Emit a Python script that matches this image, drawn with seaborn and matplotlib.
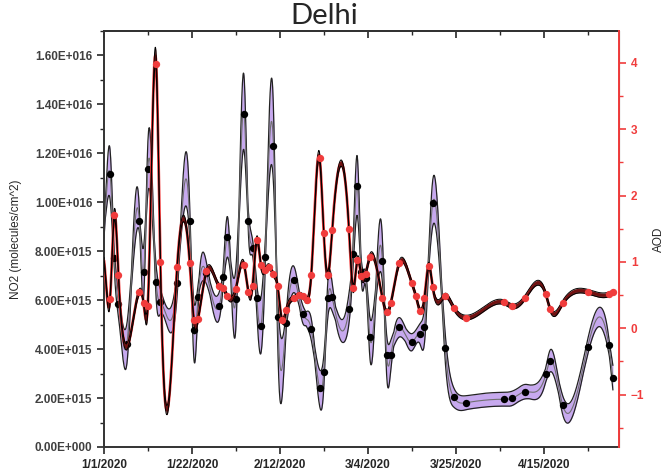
import numpy as np
import pandas as pd
import matplotlib
matplotlib.use("Agg")
import matplotlib.pyplot as plt
import seaborn as sns
from matplotlib.ticker import MultipleLocator, FuncFormatter, NullFormatter

# days since 1 Jan 2020 (first entry of each series only anchors the curve at the axis)
no2_day = [0, 1, 2, 3, 5, 8, 9, 10, 12, 13, 17, 20, 21, 22, 24, 27, 28, 29, 31, 33,
           34, 35, 36, 37, 38, 40, 41, 43, 45, 47, 49, 51, 52, 53, 54, 58, 59, 60,
           61, 62, 63, 66, 67, 68, 70, 73, 75, 76, 78, 81, 83, 86, 95, 97, 100, 105,
           106, 109, 115, 120, 121]
no2_val = [1.00e16, 1.114e16, 7.71e15, 5.84e15, 4.20e15, 9.23e15, 7.14e15, 1.135e16,
           6.73e15, 5.94e15, 6.70e15, 9.23e15, 4.78e15, 6.13e15, 7.10e15, 5.75e15,
           6.95e15, 8.59e15, 6.03e15, 1.36e16, 9.23e15, 8.15e15, 6.07e15, 4.96e15,
           7.75e15, 1.229e16, 5.30e15, 5.05e15, 6.82e15, 5.42e15, 4.82e15, 2.42e15,
           3.06e15, 6.10e15, 6.13e15, 5.64e15, 7.87e15, 1.066e16, 7.16e15, 6.89e15,
           4.48e15, 7.61e15, 3.76e15, 3.76e15, 4.89e15, 4.28e15, 4.62e15, 4.90e15,
           9.96e15, 4.03e15, 2.03e15, 1.81e15, 1.95e15, 1.99e15, 2.26e15, 2.97e15,
           3.51e15, 1.72e15, 4.10e15, 4.17e15, 2.83e15]

aod_day = [0, 1, 2, 3, 8, 9, 10, 12, 13, 17, 20, 21, 22, 24, 27, 28, 29, 31, 33, 34,
           35, 36, 37, 38, 39, 40, 41, 42, 43, 45, 46, 47, 48, 49, 51, 52, 53, 54, 58,
           59, 60, 61, 62, 63, 66, 67, 68, 70, 73, 74, 75, 76, 77, 78, 81, 83, 86, 95,
           97, 100, 105, 106, 109, 115, 120, 121]
aod_val = [0.70, 0.44, 1.71, 0.80, 0.55, 0.38, 0.34, 3.99, 1.00, 0.93, 0.99, 0.12, 0.14,
           0.86, 0.64, 0.60, 0.48, 0.59, 0.95, 0.55, 0.64, 1.33, 0.95, 0.88, 0.93, 0.81,
           0.63, 0.13, 0.27, 0.46, 0.50, 0.48, 0.42, 0.80, 2.57, 1.43, 0.80, 1.48, 1.50,
           0.60, 1.03, 0.78, 0.82, 1.08, 0.45, 0.24, 0.38, 0.98, 0.68, 0.48, 0.26, 0.45,
           0.94, 0.62, 0.49, 0.31, 0.16, 0.39, 0.33, 0.46, 0.51, 0.29, 0.38, 0.55, 0.51,
           0.54]

date_ticks = [0, 21, 42, 63, 84, 105]
date_labels = ["1/1/2020", "1/22/2020", "2/12/2020", "3/4/2020", "3/25/2020", "4/15/2020"]

overpass = 0.45  # satellite overpass, fraction of the day


def natural_spline(x, y, xs):
    x = np.asarray(x, float)
    y = np.asarray(y, float)
    n = len(x)
    h = np.diff(x)
    A = np.zeros((n, n))
    b = np.zeros(n)
    A[0, 0] = 1
    A[-1, -1] = 1
    for i in range(1, n - 1):
        A[i, i - 1] = h[i - 1]
        A[i, i] = 2 * (h[i - 1] + h[i])
        A[i, i + 1] = h[i]
        b[i] = 3 * ((y[i + 1] - y[i]) / h[i] - (y[i] - y[i - 1]) / h[i - 1])
    c = np.linalg.solve(A, b)
    bb = (y[1:] - y[:-1]) / h - h * (2 * c[:-1] + c[1:]) / 3
    d = (c[1:] - c[:-1]) / (3 * h)
    idx = np.clip(np.searchsorted(x, xs) - 1, 0, n - 2)
    t = xs - x[idx]
    return y[idx] + bb[idx] * t + c[idx] * t ** 2 + d[idx] * t ** 3


def band_width(curve, base, k, win=41):
    kern = np.ones(win) / win
    smooth = np.convolve(np.pad(curve, win // 2, mode="edge"), kern, mode="valid")
    return base + k * np.abs(curve - smooth)


sns.set_style("ticks")
plt.rcParams["font.family"] = ["Liberation Sans", "DejaVu Sans"]

no2_x = np.array(no2_day) + overpass
aod_x = np.array(aod_day) + overpass
xs1 = np.linspace(no2_x[0] - 0.45, no2_x[-1], 1600)
xs2 = np.linspace(aod_x[0] - 0.45, aod_x[-1], 1600)
no2_fit = natural_spline(no2_x, no2_val, xs1)
aod_fit = natural_spline(aod_x, aod_val, xs2)
no2_hw = band_width(no2_fit, 2.8e14, 0.32, win=61)
aod_hw = band_width(aod_fit, 0.035, 0.06)

fit1 = pd.DataFrame({"day": xs1, "no2": no2_fit})
fit2 = pd.DataFrame({"day": xs2, "aod": aod_fit})
pts1 = pd.DataFrame({"day": no2_x[1:], "no2": no2_val[1:]})
pts2 = pd.DataFrame({"day": aod_x[1:], "aod": aod_val[1:]})

purple = "#c7a9ee"
red = "#f03c3c"

fig = plt.figure(figsize=(6.64, 4.71), dpi=100)
ax = fig.add_axes([0.1566, 0.051, 0.7756, 0.8832])

ax.fill_between(xs1, no2_fit - no2_hw, no2_fit + no2_hw, color=purple, lw=0)
ax.plot(xs1, no2_fit - no2_hw, color="#222222", lw=0.9)
ax.plot(xs1, no2_fit + no2_hw, color="#222222", lw=0.9)
sns.lineplot(data=fit1, x="day", y="no2", ax=ax, color="#707070", lw=0.8,
             sort=False, estimator=None)
sns.scatterplot(data=pts1, x="day", y="no2", ax=ax, color="black", s=28,
                edgecolor="black", linewidth=0, zorder=5)

ax.set_xlim(0, 122.9)
ax.set_ylim(0, 1.7e16)
ax.yaxis.set_major_locator(MultipleLocator(2e15))
ax.yaxis.set_minor_locator(MultipleLocator(1e15))


def sci(v, p):
    if v == 0:
        return "0.00E+000"
    e = int(np.floor(np.log10(abs(v))))
    return f"{v / 10 ** e:.2f}E+{e:03d}"


ax.yaxis.set_major_formatter(FuncFormatter(sci))
ax.set_xticks(date_ticks)
ax.set_xticklabels(date_labels)
ax.xaxis.set_minor_locator(MultipleLocator(10.5))
ax.tick_params(axis="both", which="major", length=5, width=1.2, direction="out")
ax.tick_params(axis="both", which="minor", length=3, width=1.0, direction="out")
for lab in ax.get_xticklabels():
    lab.set_fontweight("bold")
    lab.set_fontsize(8.5)
for lab in ax.get_yticklabels():
    lab.set_fontweight("bold")
    lab.set_fontsize(8.5)
    lab.set_color("#404040")
ax.set_xlabel("")
ax.set_ylabel("NO2 (molecules/cm^2)", fontsize=8.5, labelpad=9)
for s in ["left", "bottom", "top"]:
    ax.spines[s].set_color("#333333")
    ax.spines[s].set_linewidth(1.4)

top = ax.secondary_xaxis("top")
top.set_xticks(date_ticks)
top.xaxis.set_minor_locator(MultipleLocator(10.5))
top.xaxis.set_major_formatter(NullFormatter())
top.tick_params(which="major", direction="in", length=5, width=1.2)
top.tick_params(which="minor", direction="in", length=3, width=1.0)
top.spines["top"].set_linewidth(1.4)
top.spines["top"].set_color("#333333")

ax2 = ax.twinx()
sns.lineplot(data=fit2, x="day", y="aod", ax=ax2, color=red, lw=2.0,
             sort=False, estimator=None, zorder=2)
ax2.fill_between(xs2, aod_fit - aod_hw, aod_fit + aod_hw, color="#5a0a0a", lw=0,
                 alpha=0.85, zorder=3)
ax2.plot(xs2, aod_fit - aod_hw, color="black", lw=0.7, zorder=3)
ax2.plot(xs2, aod_fit + aod_hw, color="black", lw=0.7, zorder=3)
sns.scatterplot(data=pts2, x="day", y="aod", ax=ax2, color=red, s=28,
                edgecolor=red, linewidth=0, zorder=5)
ax2.set_ylim(-1.79, 4.48)
ax2.yaxis.set_major_locator(MultipleLocator(1))
ax2.yaxis.set_minor_locator(MultipleLocator(0.5))
ax2.tick_params(axis="y", which="major", length=5, width=1.2, colors=red, direction="out")
ax2.tick_params(axis="y", which="minor", length=3, width=1.0, colors=red, direction="out")
for lab in ax2.get_yticklabels():
    lab.set_fontweight("bold")
    lab.set_fontsize(8.5)
ax2.set_xlabel("")
ax2.set_ylabel("AOD", fontsize=8.5, labelpad=6)
ax2.spines["right"].set_color(red)
ax2.spines["right"].set_linewidth(1.4)
for s in ["left", "bottom", "top"]:
    ax2.spines[s].set_visible(False)

fig.text(0.488, 0.967, "Delhi", ha="center", va="center", fontsize=21,
         family=["Lato", "DejaVu Sans"])

fig.savefig("out.png", dpi=100)
